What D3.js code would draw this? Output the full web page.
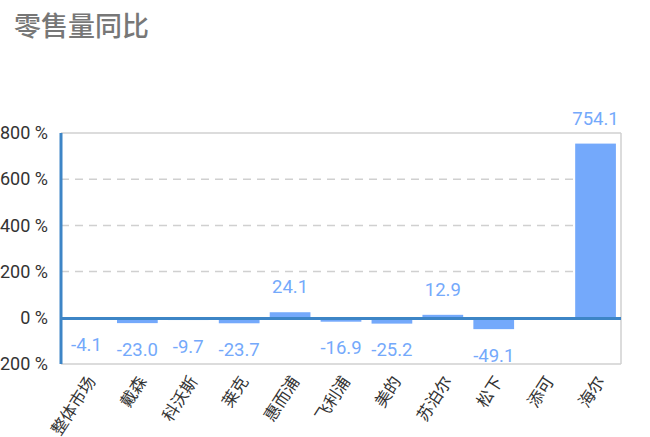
<!DOCTYPE html>
<html lang="zh">
<head>
<meta charset="utf-8">
<title>零售量同比</title>
<script src="https://cdn.jsdelivr.net/npm/d3@7/dist/d3.min.js"></script>
<style>
  body { margin: 0; background: #fff; overflow: hidden; }
  text { font-family: Roboto, "Noto Sans CJK SC", sans-serif; }
</style>
</head>
<body>
<script>
var width = 650;
var height = 437;

var titleText = "零售量同比";
var categories = ["整体市场", "戴森", "科沃斯", "莱克", "惠而浦", "飞利浦", "美的", "苏泊尔", "松下", "添可", "海尔"];
var values = [-4.1, -23.0, -9.7, -23.7, 24.1, -16.9, -25.2, 12.9, -49.1, null, 754.1];
var yTicks = [-200, 0, 200, 400, 600, 800];

var margin = {top: 133, right: 29, bottom: 73, left: 61};
var plotW = width - margin.left - margin.right;
var plotH = height - margin.top - margin.bottom;

var svg = d3.select("body").append("svg")
            .attr("width", width)
            .attr("height", height);

svg.append("text")
   .attr("x", 14)
   .attr("y", 36)
   .attr("font-family", "'Noto Sans CJK SC', sans-serif")
   .attr("font-size", 27)
   .attr("font-weight", 500)
   .attr("fill", "#777")
   .text(titleText);

var x = d3.scaleBand().domain(categories).range([0, plotW]).paddingInner(0.2).paddingOuter(0.1);
var y = d3.scaleLinear().domain([-200, 800]).range([plotH, 0]);

var g = svg.append("g").attr("transform", "translate(" + margin.left + "," + margin.top + ")");

// grid lines
g.selectAll(".grid")
 .data(yTicks.filter(function(t) { return t !== 0; }))
 .enter()
 .append("line")
 .attr("x1", 0)
 .attr("x2", plotW)
 .attr("y1", function(d) { return y(d); })
 .attr("y2", function(d) { return y(d); })
 .attr("stroke", "#d0d0d0")
 .attr("stroke-width", 1.5)
 .attr("stroke-dasharray", function(d) { return (d === 800 || d === -200) ? null : "8,6"; });

// right border
g.append("line")
 .attr("x1", plotW).attr("x2", plotW)
 .attr("y1", 0).attr("y2", plotH)
 .attr("stroke", "#d0d0d0")
 .attr("stroke-width", 1.5);

// y axis labels
var yAxis = d3.axisLeft(y).tickValues(yTicks).tickSize(0).tickPadding(13)
              .tickFormat(function(d) { return d + " %"; });
var ya = g.append("g").call(yAxis);
ya.select(".domain").remove();
ya.selectAll("text")
  .attr("font-family", "Roboto, sans-serif")
  .attr("font-size", 18)
  .attr("fill", "#333");

// bars
var data = categories.map(function(c, i) { return {cat: c, v: values[i]}; })
                     .filter(function(d) { return d.v !== null; });

g.selectAll(".bar")
 .data(data)
 .enter()
 .append("rect")
 .attr("x", function(d) { return x(d.cat); })
 .attr("width", x.bandwidth())
 .attr("y", function(d) { return y(Math.max(0, d.v)); })
 .attr("height", function(d) { return Math.abs(y(d.v) - y(0)); })
 .attr("fill", "#74a9fb");

// value labels
g.selectAll(".val")
 .data(data)
 .enter()
 .append("text")
 .attr("x", function(d) { return x(d.cat) + x.bandwidth() / 2; })
 .attr("y", function(d) { return d.v >= 0 ? y(d.v) - 25.5 : y(d.v) + 26; })
 .attr("dy", "0.35em")
 .attr("text-anchor", "middle")
 .attr("font-family", "Roboto, sans-serif")
 .attr("font-size", 18.5)
 .attr("fill", "#74a9fb")
 .text(function(d) { return d.v.toFixed(1); });

// zero line
g.append("line")
 .attr("x1", 0).attr("x2", plotW)
 .attr("y1", y(0) + 0.8).attr("y2", y(0) + 0.8)
 .attr("stroke", "#3d85c6")
 .attr("stroke-width", 3);

// left axis line
g.append("line")
 .attr("x1", 0).attr("x2", 0)
 .attr("y1", 0).attr("y2", plotH)
 .attr("stroke", "#3d85c6")
 .attr("stroke-width", 3);

// category labels
g.selectAll(".cat")
 .data(categories)
 .enter()
 .append("text")
 .attr("transform", function(d) {
   return "translate(" + (x(d) + x.bandwidth() / 2 + 5) + "," + (plotH + 14) + ") rotate(-57)";
 })
 .attr("text-anchor", "end")
 .attr("dy", "0.35em")
 .attr("font-family", "'Noto Sans CJK SC', sans-serif")
 .attr("font-size", 16.5)
 .attr("fill", "#333")
 .text(function(d) { return d; });
</script>
</body>
</html>
